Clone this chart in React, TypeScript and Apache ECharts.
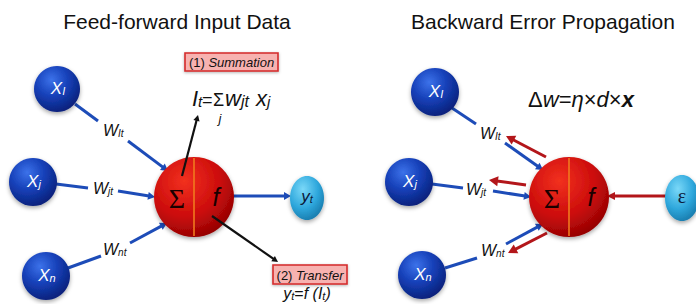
import React, { useEffect, useRef } from 'react';
import * as echarts from 'echarts';

const titles = ['Feed-forward Input Data', 'Backward Error Propagation'];
const inputMains = ['X', 'X', 'X'];
const inputSubs = ['I', 'j', 'n'];
const weightMains = ['W', 'W', 'W'];
const weightSubs = ['It', 'jt', 'nt'];
const boxLabels = [['(1) ', 'Summation'], ['(2) ', 'Transfer']];
const outputLabel = ['y', 't'];
const errorLabel = 'ε';
const neuronSymbols = ['Σ', 'f'];

const SANS = '"Liberation Sans", Arial, Helvetica, sans-serif';
const SERIF = '"Liberation Serif", "DejaVu Serif", serif';
const BLUE = '#1d4cb8';
const RED = '#b3161a';

function radial(stops: [number, string][]) {
  return new echarts.graphic.RadialGradient(0.38, 0.3, 0.8, stops.map(([offset, color]) => ({ offset, color })));
}
const blueFill = () => radial([[0, '#3c72ea'], [0.45, '#1640b8'], [1, '#061a6e']]);
const redFill = () => radial([[0, '#f2311f'], [0.55, '#cc0c0c'], [1, '#870000']]);
const cyanFill = () => radial([[0, '#7ad8f8'], [0.55, '#2ea7dc'], [1, '#1472a3']]);
const shadow = { shadowBlur: 4, shadowOffsetY: 2, shadowColor: 'rgba(0,0,0,0.35)' };

function arrow(x1: number, y1: number, x2: number, y2: number, color: string, w = 3, hl = 8, hw = 4.5): any[] {
  const dx = x2 - x1, dy = y2 - y1, L = Math.hypot(dx, dy);
  const ux = dx / L, uy = dy / L;
  const bx = x2 - ux * hl, by = y2 - uy * hl;
  const px = -uy, py = ux;
  return [
    { type: 'line', shape: { x1, y1, x2: bx + ux * 1, y2: by + uy * 1 }, style: { stroke: color, lineWidth: w } },
    { type: 'polygon', shape: { points: [[x2, y2], [bx + px * hw, by + py * hw], [bx - px * hw, by - py * hw]] }, style: { fill: color } },
  ];
}
function seg(x1: number, y1: number, x2: number, y2: number, color: string, w = 3): any {
  return { type: 'line', shape: { x1, y1, x2, y2 }, style: { stroke: color, lineWidth: w } };
}
function subText(x: number, y: number, main: string, sub: string, size: number, subSize: number, color: string, align = 'center', family = SANS, italic = true): any {
  return {
    type: 'text', x, y,
    style: {
      text: `{m|${main}}{s|${sub}}`,
      align, verticalAlign: 'middle',
      rich: {
        m: { fontSize: size, fontStyle: italic ? 'italic' : 'normal', fontFamily: family, fill: color, lineHeight: size, verticalAlign: 'bottom' },
        s: { fontSize: subSize, fontStyle: italic ? 'italic' : 'normal', fontFamily: family, fill: color, lineHeight: subSize * 0.1, verticalAlign: 'bottom' },
      },
    },
  };
}
function node(cx: number, cy: number, r: number, fill: any): any {
  return { type: 'circle', shape: { cx, cy, r }, style: { fill, ...shadow } };
}
function neuron(cx: number, cy: number): any[] {
  return [
    { type: 'circle', shape: { cx, cy, r: 40 }, style: { fill: redFill(), ...shadow } },
    seg(cx, cy - 39, cx, cy + 39, '#f07a1e', 1.6),
    { type: 'text', x: cx - 17, y: cy + 1, style: { text: neuronSymbols[0], align: 'center', verticalAlign: 'middle', fontSize: 28, fontFamily: SERIF, fill: '#1a0000' } },
    { type: 'text', x: cx + 22, y: cy, style: { text: neuronSymbols[1], align: 'center', verticalAlign: 'middle', fontSize: 25, fontStyle: 'italic', fontFamily: SANS, fill: '#1a0000' } },
  ];
}
function box(x: number, y: number, w: number, h: number, parts: string[]): any[] {
  return [
    { type: 'rect', shape: { x, y, width: w, height: h }, style: { fill: '#f7b2b0', stroke: '#d42a2a', lineWidth: 1.6, shadowBlur: 3, shadowOffsetY: 1, shadowColor: 'rgba(0,0,0,0.3)' } },
    {
      type: 'text', x: x + w / 2, y: y + h / 2 + 0.5,
      style: {
        text: `{a|${parts[0]}}{b|${parts[1]}}`, align: 'center', verticalAlign: 'middle',
        rich: { a: { fontSize: 13, fontFamily: SANS, fill: '#111' }, b: { fontSize: 13, fontFamily: SANS, fontStyle: 'italic', fill: '#111' } },
      },
    },
  ];
}

function buildGraphic(): any[] {
  const g: any[] = [];
  g.push({ type: 'text', x: 177, y: 21, style: { text: titles[0], align: 'center', verticalAlign: 'middle', fontSize: 21, fontFamily: SANS, fill: '#111' } });
  g.push({ type: 'text', x: 543, y: 21, style: { text: titles[1], align: 'center', verticalAlign: 'middle', fontSize: 21, fontFamily: SANS, fill: '#111' } });

  // ---------- Left diagram ----------
  g.push(seg(75, 104, 98, 121, BLUE));
  g.push(...arrow(128, 141, 168, 171, BLUE, 3, 7, 4));
  g.push(seg(56, 184, 88, 188, BLUE));
  g.push(...arrow(118, 191, 155, 197, BLUE, 3, 7, 4));
  g.push(seg(68, 268, 101, 256, BLUE));
  g.push(...arrow(130, 243, 167, 223, BLUE, 3, 7, 4));
  g.push(...arrow(232, 196, 291, 196, BLUE, 3, 7, 4));
  g.push(node(57, 89, 23, blueFill()));
  g.push(node(33, 182, 24, blueFill()));
  g.push(node(46, 276, 24, blueFill()));
  g.push(...neuron(194, 197));
  g.push({ type: 'ellipse', shape: { cx: 307, cy: 198, rx: 17, ry: 22 }, style: { fill: cyanFill(), ...shadow } });
  g.push(subText(58, 88, inputMains[0], inputSubs[0], 17, 11, '#fff'));
  g.push(subText(34, 181, inputMains[1], inputSubs[1], 17, 11, '#fff'));
  g.push(subText(47, 275, inputMains[2], inputSubs[2], 17, 11, '#fff'));
  g.push(subText(307, 196, outputLabel[0], outputLabel[1], 17, 11, '#0b1a3a'));
  g.push(subText(103, 130, weightMains[0], weightSubs[0], 16, 10, '#111', 'left'));
  g.push(subText(93, 188, weightMains[1], weightSubs[1], 16, 10, '#111', 'left'));
  g.push(subText(103, 249, weightMains[2], weightSubs[2], 16, 10, '#111', 'left'));
  g.push(...arrow(182, 176, 198, 115, '#111', 2.2, 6, 3.2));
  g.push(...arrow(212, 216, 278, 262, '#111', 2.2, 6, 3.2));
  g.push(...box(185, 53, 93, 18, boxLabels[0]));
  g.push(...box(273, 265, 74, 19, boxLabels[1]));
  // summation formula
  g.push(subText(192, 98, 'I', 't', 22, 15, '#111', 'left'));
  g.push({ type: 'text', x: 202, y: 100, style: { text: '=', align: 'left', verticalAlign: 'middle', fontSize: 18, fontFamily: SANS, fill: '#111' } });
  g.push({ type: 'text', x: 218.5, y: 100, style: { text: 'Σ', align: 'center', verticalAlign: 'middle', fontSize: 18, fontFamily: SANS, fill: '#111' } });
  g.push({ type: 'text', x: 220, y: 118, style: { text: 'j', align: 'center', verticalAlign: 'middle', fontSize: 13, fontStyle: 'italic', fontFamily: SANS, fill: '#111' } });
  g.push(subText(225, 98, 'w', 'jt', 22, 16, '#111', 'left'));
  g.push(subText(256, 98, 'x', 'j', 22, 15, '#111', 'left'));
  // transfer formula
  g.push({
    type: 'text', x: 307, y: 293,
    style: {
      text: '{m|y}{s|t}{n|=}{m|f (I}{s|t}{m|)}', align: 'center', verticalAlign: 'middle',
      rich: {
        m: { fontSize: 16, fontStyle: 'italic', fontFamily: SANS, fill: '#111', lineHeight: 16, verticalAlign: 'bottom' },
        n: { fontSize: 16, fontFamily: SANS, fill: '#111', lineHeight: 16, verticalAlign: 'bottom' },
        s: { fontSize: 11, fontStyle: 'italic', fontFamily: SANS, fill: '#111', lineHeight: 2, verticalAlign: 'bottom' },
      },
    },
  });

  // ---------- Right diagram ----------
  g.push(seg(452, 108, 476, 124, BLUE));
  g.push(...arrow(505, 143, 543, 170, BLUE, 3, 7, 4));
  g.push(...arrow(546, 157, 506, 136, RED, 3, 9, 5));
  g.push(seg(432, 184, 463, 188, BLUE));
  g.push(...arrow(526, 185, 489, 180, RED, 3, 9, 5));
  g.push(...arrow(493, 191, 531, 197, BLUE, 3, 7, 4));
  g.push(seg(445, 268, 477, 258, BLUE));
  g.push(...arrow(506, 244, 543, 224, BLUE, 3, 7, 4));
  g.push(...arrow(547, 233, 508, 253, RED, 3, 9, 5));
  g.push(...arrow(666, 196, 607, 196, RED, 3, 8, 4));
  g.push(node(435, 92, 24, blueFill()));
  g.push(node(409, 182, 24, blueFill()));
  g.push(node(422, 275, 24, blueFill()));
  g.push(...neuron(569, 197));
  g.push({ type: 'ellipse', shape: { cx: 682, cy: 198, rx: 17, ry: 23 }, style: { fill: cyanFill(), ...shadow } });
  g.push(subText(436, 91, inputMains[0], inputSubs[0], 17, 11, '#fff'));
  g.push(subText(410, 181, inputMains[1], inputSubs[1], 17, 11, '#fff'));
  g.push(subText(423, 274, inputMains[2], inputSubs[2], 17, 11, '#fff'));
  g.push({ type: 'text', x: 682, y: 196, style: { text: errorLabel, align: 'center', verticalAlign: 'middle', fontSize: 20, fontFamily: SERIF, fill: '#0b1a3a' } });
  g.push(subText(480, 133, weightMains[0], weightSubs[0], 16, 10, '#111', 'left'));
  g.push(subText(466, 189, weightMains[1], weightSubs[1], 16, 10, '#111', 'left'));
  g.push(subText(481, 250, weightMains[2], weightSubs[2], 16, 10, '#111', 'left'));
  g.push({
    type: 'text', x: 581, y: 99,
    style: {
      text: '{n|Δ}{m|w}{n|=}{m|η}{n|×}{m|d}{n|×}{b|x}', align: 'center', verticalAlign: 'middle',
      rich: {
        m: { fontSize: 22, fontStyle: 'italic', fontFamily: SANS, fill: '#111' },
        b: { fontSize: 22, fontStyle: 'italic', fontWeight: 'bold', fontFamily: SANS, fill: '#111' },
        n: { fontSize: 22, fontFamily: SANS, fill: '#111' },
      },
    },
  });
  return g;
}

export default function App() {
  const ref = useRef<HTMLDivElement>(null);
  useEffect(() => {
    if (!ref.current) return;
    const chart = echarts.init(ref.current, undefined, { renderer: 'svg' });
    chart.setOption({
      animation: false,
      backgroundColor: '#ffffff',
      graphic: { elements: buildGraphic() },
    });
    return () => chart.dispose();
  }, []);
  return <div ref={ref} style={{ position: 'fixed', left: 0, top: 0, width: 696, height: 304 }} />;
}
